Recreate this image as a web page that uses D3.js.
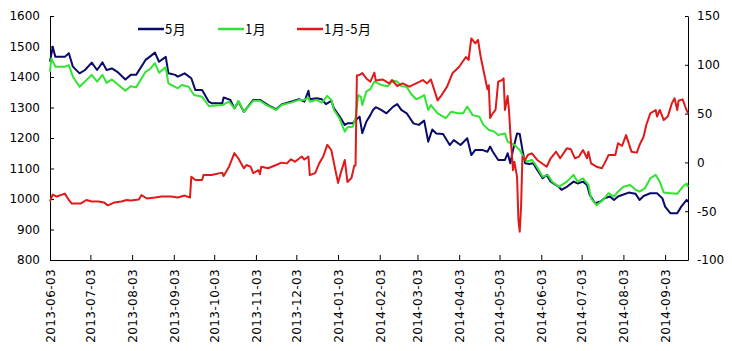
<!DOCTYPE html>
<html><head><meta charset="utf-8">
<script src="https://cdn.jsdelivr.net/npm/d3@7"></script>
<style>
html,body{margin:0;padding:0;background:#fff;}
svg{display:block;}
.tick text{font-family:"DejaVu Sans",sans-serif;font-size:12px;fill:#000;}
.xax .tick text{letter-spacing:0.4px;}
</style></head>
<body><svg id="c" width="732" height="351"></svg>
<script>
const seriesNames = ["5月", "1月", "1月-5月"];
const seriesColors = ["#0a0a6a", "#33e333", "#e01a1a"];
const leftTicks = [800, 900, 1000, 1100, 1200, 1300, 1400, 1500, 1600];
const rightTicks = [-100, -50, 0, 50, 100, 150];
const xTickLabels = ["2013-06-03","2013-07-03","2013-08-03","2013-09-03","2013-10-03","2013-11-03","2013-12-03","2014-01-03","2014-02-03","2014-03-03","2014-04-03","2014-05-03","2014-06-03","2014-07-03","2014-08-03","2014-09-03"];

const mayDates = ["2013-06-03","2013-06-05","2013-06-07","2013-06-14","2013-06-17","2013-06-20","2013-06-22","2013-06-25","2013-06-29","2013-07-04","2013-07-08","2013-07-12","2013-07-15","2013-07-19","2013-07-23","2013-07-29","2013-08-02","2013-08-06","2013-08-13","2013-08-16","2013-08-20","2013-08-23","2013-08-28","2013-08-30","2013-09-04","2013-09-06","2013-09-11","2013-09-16","2013-09-19","2013-09-24","2013-09-29","2013-10-01","2013-10-09","2013-10-10","2013-10-15","2013-10-18","2013-10-21","2013-10-25","2013-11-01","2013-11-06","2013-11-12","2013-11-18","2013-11-22","2013-11-29","2013-12-05","2013-12-09","2013-12-12","2013-12-13","2013-12-18","2013-12-22","2013-12-25","2013-12-29","2013-12-31","2014-01-04","2014-01-08","2014-01-10","2014-01-14","2014-01-16","2014-01-19","2014-01-21","2014-01-24","2014-01-27","2014-01-29","2014-01-31","2014-02-04","2014-02-08","2014-02-13","2014-02-16","2014-02-19","2014-02-23","2014-02-28","2014-03-04","2014-03-08","2014-03-11","2014-03-14","2014-03-17","2014-03-22","2014-03-27","2014-03-30","2014-04-04","2014-04-09","2014-04-12","2014-04-15","2014-04-20","2014-04-24","2014-04-26","2014-04-28","2014-05-02","2014-05-07","2014-05-09","2014-05-11","2014-05-13","2014-05-16","2014-05-18","2014-05-20","2014-05-22","2014-05-25","2014-05-28","2014-05-31","2014-06-04","2014-06-07","2014-06-10","2014-06-16","2014-06-18","2014-06-22","2014-06-27","2014-06-30","2014-07-04","2014-07-07","2014-07-09","2014-07-13","2014-07-17","2014-07-20","2014-07-24","2014-07-27","2014-07-30","2014-08-02","2014-08-07","2014-08-12","2014-08-15","2014-08-18","2014-08-23","2014-08-28","2014-09-01","2014-09-03","2014-09-07","2014-09-12","2014-09-15","2014-09-19","2014-09-20"];
const mayValues = [1450,1499,1466,1466,1478,1434,1425,1412,1423,1447,1423,1448,1423,1428,1417,1392,1407,1407,1456,1466,1480,1450,1466,1412,1407,1401,1412,1396,1357,1357,1319,1314,1314,1333,1325,1297,1319,1286,1325,1325,1308,1294,1310,1319,1327,1319,1355,1327,1330,1327,1311,1322,1297,1272,1243,1248,1248,1259,1270,1216,1253,1275,1292,1301,1292,1281,1303,1311,1292,1281,1248,1243,1257,1188,1228,1215,1213,1177,1193,1177,1199,1144,1161,1161,1155,1172,1155,1128,1128,1150,1117,1161,1215,1213,1161,1117,1115,1117,1095,1068,1079,1057,1040,1030,1040,1057,1051,1057,1046,1013,986,992,1002,1008,997,1008,1013,1021,1017,997,1010,1019,1019,1002,975,953,953,975,997,990];

const janDates = ["2013-06-03","2013-06-04","2013-06-07","2013-06-14","2013-06-17","2013-06-20","2013-06-25","2013-06-29","2013-07-04","2013-07-08","2013-07-12","2013-07-15","2013-07-19","2013-07-23","2013-07-29","2013-08-02","2013-08-06","2013-08-13","2013-08-16","2013-08-20","2013-08-23","2013-08-28","2013-08-30","2013-09-06","2013-09-09","2013-09-14","2013-09-18","2013-09-24","2013-09-29","2013-10-09","2013-10-14","2013-10-18","2013-10-21","2013-10-25","2013-11-01","2013-11-06","2013-11-12","2013-11-18","2013-11-22","2013-11-29","2013-12-05","2013-12-09","2013-12-12","2013-12-13","2013-12-18","2013-12-22","2013-12-26","2013-12-29","2013-12-31","2014-01-04","2014-01-08","2014-01-10","2014-01-14","2014-01-16","2014-01-18","2014-01-20","2014-01-21","2014-01-24","2014-01-27","2014-01-30","2014-02-04","2014-02-09","2014-02-13","2014-02-16","2014-02-19","2014-02-23","2014-02-26","2014-03-02","2014-03-06","2014-03-08","2014-03-11","2014-03-13","2014-03-18","2014-03-24","2014-03-28","2014-04-02","2014-04-06","2014-04-09","2014-04-13","2014-04-18","2014-04-21","2014-04-25","2014-04-29","2014-05-02","2014-05-07","2014-05-09","2014-05-14","2014-05-18","2014-05-20","2014-05-23","2014-05-27","2014-05-30","2014-06-04","2014-06-08","2014-06-11","2014-06-16","2014-06-22","2014-06-27","2014-06-30","2014-07-04","2014-07-08","2014-07-10","2014-07-14","2014-07-19","2014-07-23","2014-07-27","2014-07-30","2014-08-03","2014-08-08","2014-08-12","2014-08-15","2014-08-19","2014-08-23","2014-08-27","2014-08-30","2014-09-02","2014-09-07","2014-09-12","2014-09-16","2014-09-19","2014-09-20"];
const janValues = [1417,1461,1434,1434,1439,1401,1368,1385,1407,1385,1407,1381,1392,1377,1355,1370,1366,1417,1425,1445,1414,1432,1379,1363,1374,1368,1341,1335,1305,1308,1319,1297,1322,1286,1322,1322,1305,1292,1308,1316,1325,1325,1333,1319,1325,1316,1338,1325,1292,1265,1221,1235,1237,1265,1341,1335,1308,1352,1360,1385,1374,1370,1388,1385,1370,1368,1346,1327,1335,1341,1292,1308,1281,1265,1286,1281,1281,1303,1275,1270,1243,1226,1221,1210,1215,1188,1177,1161,1144,1122,1128,1111,1073,1079,1057,1040,1057,1079,1057,1068,1046,1002,980,997,1019,1008,1024,1040,1046,1030,1024,1035,1068,1079,1057,1021,1019,1017,1040,1051,1040];

const spreadDates = ["2013-06-03","2013-06-05","2013-06-08","2013-06-14","2013-06-17","2013-06-19","2013-06-26","2013-06-30","2013-07-04","2013-07-09","2013-07-13","2013-07-16","2013-07-21","2013-07-26","2013-07-30","2013-08-02","2013-08-08","2013-08-10","2013-08-14","2013-08-20","2013-08-25","2013-09-01","2013-09-06","2013-09-11","2013-09-15","2013-09-16","2013-09-19","2013-09-24","2013-09-25","2013-10-01","2013-10-09","2013-10-10","2013-10-14","2013-10-18","2013-10-21","2013-10-25","2013-10-27","2013-10-30","2013-11-01","2013-11-05","2013-11-06","2013-11-07","2013-11-12","2013-11-18","2013-11-22","2013-11-26","2013-11-29","2013-12-02","2013-12-07","2013-12-09","2013-12-12","2013-12-13","2013-12-17","2013-12-20","2013-12-23","2013-12-26","2013-12-29","2013-12-31","2014-01-03","2014-01-05","2014-01-08","2014-01-10","2014-01-13","2014-01-15","2014-01-16","2014-01-17","2014-01-19","2014-01-21","2014-01-24","2014-01-27","2014-01-30","2014-01-31","2014-02-05","2014-02-10","2014-02-12","2014-02-16","2014-02-20","2014-02-25","2014-03-02","2014-03-07","2014-03-10","2014-03-13","2014-03-16","2014-03-18","2014-03-21","2014-03-25","2014-03-29","2014-04-03","2014-04-08","2014-04-10","2014-04-12","2014-04-15","2014-04-17","2014-04-19","2014-04-22","2014-04-24","2014-04-25","2014-04-26","2014-04-28","2014-04-30","2014-05-02","2014-05-05","2014-05-06","2014-05-07","2014-05-09","2014-05-10","2014-05-11","2014-05-13","2014-05-14","2014-05-16","2014-05-17","2014-05-18","2014-05-19","2014-05-20","2014-05-22","2014-05-24","2014-05-27","2014-05-31","2014-06-07","2014-06-10","2014-06-14","2014-06-17","2014-06-22","2014-06-25","2014-06-28","2014-07-01","2014-07-04","2014-07-07","2014-07-08","2014-07-10","2014-07-14","2014-07-18","2014-07-20","2014-07-23","2014-07-28","2014-07-30","2014-08-02","2014-08-05","2014-08-09","2014-08-13","2014-08-15","2014-08-18","2014-08-20","2014-08-23","2014-08-27","2014-08-28","2014-08-30","2014-09-02","2014-09-05","2014-09-08","2014-09-10","2014-09-12","2014-09-13","2014-09-16","2014-09-18","2014-09-20"];
const spreadValues = [-40,-33,-35,-32,-38.5,-42,-42,-38.5,-40,-40,-41,-44,-41,-40,-38.5,-39,-38,-33.5,-37,-36,-35,-35,-36,-34,-36,-14.6,-18,-18,-13,-13,-10.5,-14,-4.4,9.5,4,-6,-2.7,-4.4,-11,-8,-12,-4.4,-6,-2.7,-0.3,-1,3.2,0.7,6,3,6,-13,-11,-1,6,18,12.7,-1,-21,-11,2.5,-20,-16,-3.7,-3,89,89.5,91.5,86,82.7,92,84,85,81,84.4,78.3,81,77.6,81,84.4,81,85,72,63.5,69,77.6,91.3,98,108,105,127,122,125.5,108,88,75,79,45.5,50.3,53.7,82.7,84.4,86.2,53.7,68,53.7,30,-8,0.7,-14.6,-59,-71,-45,6,2.5,7.6,9.3,2.5,-4.4,4.2,11,4.2,14.4,13.4,4.2,6,12.7,4.2,11,-1,-4.4,-6,-1,7.6,7.6,19.6,17,28,11,10,17.8,26.3,38.3,50.3,53.7,47,53.7,43.4,47,60.5,65.7,53.7,63.2,64.6,57,50.3];

const parse = d3.timeParse("%Y-%m-%d");
const svg = d3.select("#c");
const L = 50, R = 688, T = 16, B = 260;
const x = d3.scaleTime().domain([parse("2013-06-03"), parse("2014-09-20")]).range([L, R]);
const yL = d3.scaleLinear().domain([800, 1600]).range([B, T]);
const yR = d3.scaleLinear().domain([-100, 150]).range([B, T]);

// axes
const gl = svg.append("g").attr("transform", `translate(${L},0)`)
  .call(d3.axisLeft(yL).tickValues(leftTicks).tickSize(-4).tickSizeOuter(0).tickPadding(10).tickFormat(d3.format("d")));
const gr = svg.append("g").attr("transform", `translate(${R},0)`)
  .call(d3.axisRight(yR).tickValues(rightTicks).tickSize(-3).tickSizeOuter(0).tickPadding(9).tickFormat(d => String(d)));
const gx = svg.append("g").attr("class", "xax").attr("transform", `translate(0,${B})`)
  .call(d3.axisBottom(x).tickValues(xTickLabels.map(parse)).tickSize(-5).tickSizeOuter(0).tickFormat(d3.timeFormat("%Y-%m-%d")));
gx.selectAll(".tick text").attr("transform", "rotate(-90)").attr("text-anchor", "end")
  .attr("x", -9).attr("y", 0).attr("dy", "0.36em");
svg.selectAll(".domain, .tick line").attr("stroke", "#000").attr("stroke-width", 1);

// lines
function draw(dates, values, scale, color) {
  const data = dates.map((d, i) => [parse(d), values[i]]);
  svg.append("path").datum(data)
    .attr("fill", "none").attr("stroke", color).attr("stroke-width", 2).attr("stroke-linejoin", "round")
    .attr("d", d3.line().x(d => x(d[0])).y(d => scale(d[1])));
}
draw(mayDates, mayValues, yL, seriesColors[0]);
draw(janDates, janValues, yL, seriesColors[1]);
draw(spreadDates, spreadValues, yR, seriesColors[2]);

// legend
const legX = [138, 218, 297];
const lg = svg.append("g");
seriesNames.forEach((n, i) => {
  lg.append("line").attr("x1", legX[i]).attr("x2", legX[i] + 26).attr("y1", 29).attr("y2", 29)
    .attr("stroke", seriesColors[i]).attr("stroke-width", 2.5);
  lg.append("text").attr("x", legX[i] + 27).attr("y", 29).attr("dy", "0.36em")
    .attr("font-family", "'Noto Sans CJK SC', sans-serif").attr("font-size", 13).attr("letter-spacing", "0.5px")
    .attr("fill", "#000").text(n);
});
</script></body></html>
